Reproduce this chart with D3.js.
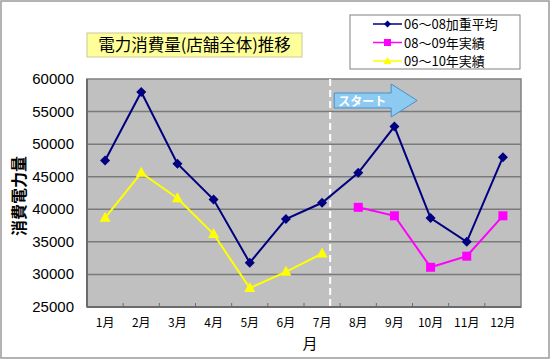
<!DOCTYPE html>
<html>
<head>
<meta charset="utf-8">
<script src="https://cdn.jsdelivr.net/npm/d3@7"></script>
<style>
  body { margin: 0; background: #fff; }
  svg { display: block; }
</style>
</head>
<body>
<svg id="chart" width="551" height="360"></svg>
<script>
// Data
const months = ["1月", "2月", "3月", "4月", "5月", "6月", "7月", "8月", "9月", "10月", "11月", "12月"];
const avg0608 = [47500, 58000, 47000, 41500, 31800, 38500, 41000, 45600, 52700, 38650, 35000, 48000];
const actual0809 = [null, null, null, null, null, null, null, 40300, 39000, 31100, 32800, 39000];
const actual0910 = [38700, 45600, 41700, 36200, 27900, 30400, 33200, null, null, null, null, null];
const yTicks = [25000, 30000, 35000, 40000, 45000, 50000, 55000, 60000];

const seriesList = [
  { name: "06～08加重平均", values: avg0608, color: "#000080", marker: "diamond" },
  { name: "08～09年実績", values: actual0809, color: "#ff00ff", marker: "square" },
  { name: "09～10年実績", values: actual0910, color: "#ffff00", marker: "triangle" }
];

const W = 551, H = 360;
const plot = { left: 87, top: 79, right: 521, bottom: 307 };
const svg = d3.select("#chart");
const jp = "'Noto Sans CJK JP', sans-serif";
const num = "'Liberation Sans', Arial, sans-serif";

// Outer frame
svg.append("rect")
  .attr("x", 1).attr("y", 1).attr("width", W - 3).attr("height", H - 3)
  .attr("fill", "#fff").attr("stroke", "#9a9a9a").attr("stroke-width", 1.5);

const x = d3.scaleBand().domain(months).range([plot.left, plot.right]);
const y = d3.scaleLinear().domain([25000, 60000]).range([plot.bottom, plot.top]);

// Plot background
svg.append("rect")
  .attr("x", plot.left).attr("y", plot.top)
  .attr("width", plot.right - plot.left).attr("height", plot.bottom - plot.top)
  .attr("fill", "#c0c0c0").attr("stroke", "#808080").attr("stroke-width", 1.5);

// Gridlines
svg.append("g").selectAll("line")
  .data(yTicks.slice(1, -1))
  .join("line")
  .attr("x1", plot.left).attr("x2", plot.right)
  .attr("y1", d => y(d)).attr("y2", d => y(d))
  .attr("stroke", "#7a7a7a").attr("stroke-width", 1.5);

// Axes lines
svg.append("line").attr("x1", plot.left).attr("x2", plot.left)
  .attr("y1", plot.top).attr("y2", plot.bottom).attr("stroke", "#6b6b6b").attr("stroke-width", 2);
svg.append("line").attr("x1", plot.left).attr("x2", plot.right)
  .attr("y1", plot.bottom).attr("y2", plot.bottom).attr("stroke", "#6b6b6b").attr("stroke-width", 2);

// x tick marks (inside)
svg.append("g").selectAll("line")
  .data(months.slice(1))
  .join("line")
  .attr("x1", d => x(d)).attr("x2", d => x(d))
  .attr("y1", plot.bottom).attr("y2", plot.bottom - 4)
  .attr("stroke", "#6b6b6b").attr("stroke-width", 1);

// Y labels
svg.append("g").selectAll("text")
  .data(yTicks)
  .join("text")
  .attr("x", 74).attr("y", d => y(d) + 5)
  .attr("text-anchor", "end")
  .attr("font-family", num).attr("font-size", 15)
  .text(d => d);

// X labels
svg.append("g").selectAll("text")
  .data(months)
  .join("text")
  .attr("x", d => x(d) + x.bandwidth() / 2).attr("y", 327)
  .attr("text-anchor", "middle")
  .attr("font-family", jp).attr("font-size", 12)
  .text(d => d);

// Axis titles
svg.append("text")
  .attr("transform", "translate(25,196) rotate(-90)")
  .attr("text-anchor", "middle")
  .attr("font-family", jp).attr("font-size", 16).attr("font-weight", "bold")
  .text("消費電力量");
svg.append("text")
  .attr("x", 310).attr("y", 349)
  .attr("text-anchor", "middle")
  .attr("font-family", jp).attr("font-size", 15)
  .text("月");

// Dashed divider between 7月 and 8月
const divX = x("8月") - 10;
svg.append("line")
  .attr("x1", divX).attr("x2", divX)
  .attr("y1", plot.top).attr("y2", plot.bottom)
  .attr("stroke", "#fff").attr("stroke-width", 2).attr("stroke-dasharray", "7,4");

// Start arrow
const ax = divX + 4;
svg.append("path")
  .attr("d", `M${ax},93 L${ax + 57},93 L${ax + 57},84 L${ax + 83},100.5 L${ax + 57},117 L${ax + 57},108 L${ax},108 Z`)
  .attr("fill", "#8ccaf2").attr("stroke", "#4a90c8").attr("stroke-width", 1);
svg.append("text")
  .attr("x", ax + 28).attr("y", 105.5)
  .attr("text-anchor", "middle")
  .attr("font-family", jp).attr("font-size", 12).attr("font-weight", "bold")
  .attr("fill", "#fff")
  .text("スタート");

// Markers
function marker(g, type, color, cx, cy) {
  if (type === "diamond") {
    g.append("path").attr("d", `M${cx},${cy - 5} L${cx + 5},${cy} L${cx},${cy + 5} L${cx - 5},${cy} Z`)
      .attr("fill", color);
  } else if (type === "square") {
    g.append("rect").attr("x", cx - 4.5).attr("y", cy - 4.5).attr("width", 9).attr("height", 9)
      .attr("fill", color);
  } else {
    g.append("path").attr("d", `M${cx},${cy - 6} L${cx + 5.5},${cy + 4} L${cx - 5.5},${cy + 4} Z`)
      .attr("fill", color);
  }
}

const line = d3.line()
  .defined(d => d.v != null)
  .x(d => x(d.m) + x.bandwidth() / 2)
  .y(d => y(d.v));

seriesList.slice().reverse().forEach(s => {
  const pts = months.map((m, i) => ({ m, v: s.values[i] }));
  const g = svg.append("g");
  g.append("path").datum(pts)
    .attr("d", line)
    .attr("fill", "none").attr("stroke", s.color).attr("stroke-width", 2);
  pts.filter(p => p.v != null).forEach(p => {
    marker(g, s.marker, s.color, x(p.m) + x.bandwidth() / 2, y(p.v));
  });
});

// Title box
svg.append("rect")
  .attr("x", 87).attr("y", 33).attr("width", 215).attr("height", 24)
  .attr("fill", "#ffff99").attr("stroke", "#c8c8a0").attr("stroke-width", 1);
svg.append("text")
  .attr("x", 194.5).attr("y", 51)
  .attr("text-anchor", "middle")
  .attr("font-family", jp).attr("font-size", 16.5)
  .text("電力消費量(店舗全体)推移");

// Legend
svg.append("rect")
  .attr("x", 350).attr("y", 15).attr("width", 170).attr("height", 54)
  .attr("fill", "#fff").attr("stroke", "#808080").attr("stroke-width", 1);
const leg = svg.append("g").selectAll("g")
  .data(seriesList)
  .join("g")
  .attr("transform", (d, i) => `translate(0,${24 + i * 18.5})`);
leg.append("line")
  .attr("x1", 373).attr("x2", 402).attr("y1", 0).attr("y2", 0)
  .attr("stroke", d => d.color).attr("stroke-width", 1.5);
leg.each(function(d) {
  const g = d3.select(this);
  if (d.marker === "diamond") {
    g.append("path").attr("d", "M387.5,-3.5 L391,0 L387.5,3.5 L384,0 Z").attr("fill", d.color);
  } else if (d.marker === "square") {
    g.append("rect").attr("x", 384).attr("y", -3.5).attr("width", 7).attr("height", 7).attr("fill", d.color);
  } else {
    g.append("path").attr("d", "M387.5,-4 L391.5,3 L383.5,3 Z").attr("fill", d.color);
  }
});
leg.append("text")
  .attr("x", 404).attr("y", 5)
  .attr("font-family", jp).attr("font-size", 13)
  .text(d => d.name);
</script>
</body>
</html>
